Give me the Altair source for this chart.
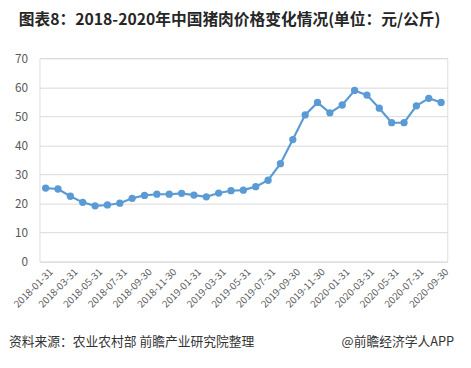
import altair as alt
import pandas as pd

dates = ["2018-01-31","2018-02-28","2018-03-31","2018-04-30","2018-05-31","2018-06-30",
         "2018-07-31","2018-08-31","2018-09-30","2018-10-31","2018-11-30","2018-12-31",
         "2019-01-31","2019-02-28","2019-03-31","2019-04-30","2019-05-31","2019-06-30",
         "2019-07-31","2019-08-31","2019-09-30","2019-10-31","2019-11-30","2019-12-31",
         "2020-01-31","2020-02-29","2020-03-31","2020-04-30","2020-05-31","2020-06-30",
         "2020-07-31","2020-08-31","2020-09-30"]
prices = [25.3, 25.0, 22.5, 20.4, 19.2, 19.5, 20.1, 21.8, 22.8, 23.2, 23.2, 23.5,
          22.9, 22.3, 23.6, 24.4, 24.6, 25.8, 28.0, 33.7, 42.0, 50.5, 54.8, 51.2,
          53.9, 58.9, 57.3, 52.8, 47.8, 47.8, 53.6, 56.2, 54.8]
tick_labels = dates[::2]

title_text = "图表8：2018-2020年中国猪肉价格变化情况(单位：元/公斤)"
source_text = "资料来源：农业农村部 前瞻产业研究院整理"
brand_text = "@前瞻经济学人APP"

df = pd.DataFrame({"date": dates, "price": prices})
FONT = "Noto Sans CJK SC"
COLOR = "#5B9BD5"

x = alt.X("date:N", sort=None, title=None,
          scale=alt.Scale(type="point", padding=0.5),
          axis=alt.Axis(values=tick_labels, labelAngle=315, labelAlign="right",
                        labelBaseline="top", labelFontSize=10, labelColor="#595959",
                        labelFont=FONT, ticks=False, domain=False, grid=False,
                        labelPadding=5, labelOffset=2))
y = alt.Y("price:Q", title=None,
          scale=alt.Scale(domain=[0, 70], nice=False),
          axis=alt.Axis(values=list(range(0, 71, 10)), labelFontSize=12,
                        labelColor="#595959", labelFont=FONT, ticks=False,
                        domain=False, gridColor="#d9d9d9", labelPadding=12))

line = alt.Chart(df).mark_line(color=COLOR, strokeWidth=2.2).encode(x=x, y=y)
pts = alt.Chart(df).mark_point(color=COLOR, filled=True, opacity=1, size=55).encode(x=x, y=y)

foot = pd.DataFrame({"a": [source_text], "b": [brand_text]})
src = alt.Chart(foot).mark_text(align="left", baseline="middle", fontSize=13,
                                font=FONT, color="#333333").encode(
    text="a:N", x=alt.value(-31), y=alt.value(289))
brand = alt.Chart(foot).mark_text(align="right", baseline="middle", fontSize=13,
                                  font=FONT, color="#333333").encode(
    text="b:N", x=alt.value(422), y=alt.value(289))

chart = alt.layer(line, pts, src, brand).properties(
    width=415, height=207,
    title=alt.TitleParams(title_text, anchor="start", frame="group", dx=-21,
                          font=FONT, fontSize=16, fontWeight="bold",
                          color="#262626", offset=25),
    autosize=alt.AutoSizeParams(type="none"),
    padding={"left": 32, "top": 48, "right": 16, "bottom": 97},
).configure_view(stroke=None).configure(background="white")

chart.save("out.html", embed_options={"renderer": "svg", "actions": False})
